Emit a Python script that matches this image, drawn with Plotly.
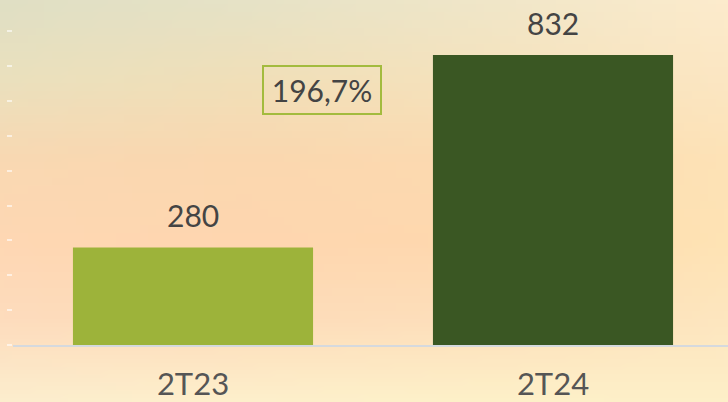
import base64
import struct
import zlib
import plotly.graph_objects as go

# data
categories = ["2T23", "2T24"]
values = [280, 832]
bar_colors = ["#9db33a", "#3a5723"]
growth_label = "196,7%"

# soft sunset-like background, control colours (rows top->bottom, cols left->right)
bg_rows = [
    ["#e0dfc4", "#e6e2c6", "#f0e6c8", "#fcebcc"],
    ["#ebe0bd", "#f1dfb8", "#f6e2bc", "#fbe6c2"],
    ["#f9d8b2", "#fbd7af", "#fcdab0", "#fde2b6"],
    ["#fed7b3", "#fed6af", "#fed8ae", "#fee3b4"],
    ["#fddcbd", "#fddcba", "#fddfbb", "#fde6bf"],
    ["#fcedcd", "#fdefcb", "#fdf0c8", "#fdefc8"],
]

W, H = 728, 402
ML, MB = 13, 57


def hex_rgb(h):
    h = h.lstrip("#")
    return [int(h[i:i + 2], 16) for i in (0, 2, 4)]


def gradient_png(rows, w=91, h=51):
    grid = [[hex_rgb(c) for c in r] for r in rows]
    nr, nc = len(grid), len(grid[0])
    raw = b""
    for j in range(h):
        fy = j / (h - 1) * (nr - 1)
        r0 = min(int(fy), nr - 2)
        ty = fy - r0
        line = b"\x00"
        for i in range(w):
            fx = i / (w - 1) * (nc - 1)
            c0 = min(int(fx), nc - 2)
            tx = fx - c0
            px = []
            for k in range(3):
                a = grid[r0][c0][k] * (1 - tx) + grid[r0][c0 + 1][k] * tx
                b = grid[r0 + 1][c0][k] * (1 - tx) + grid[r0 + 1][c0 + 1][k] * tx
                px.append(int(round(a * (1 - ty) + b * ty)))
            line += bytes(px)
        raw += line

    def chunk(tag, data):
        c = struct.pack(">I", len(data)) + tag + data
        return c + struct.pack(">I", zlib.crc32(tag + data) & 0xffffffff)

    png = b"\x89PNG\r\n\x1a\n"
    png += chunk(b"IHDR", struct.pack(">IIBBBBB", w, h, 8, 2, 0, 0, 0))
    png += chunk(b"IDAT", zlib.compress(raw, 9))
    png += chunk(b"IEND", b"")
    return "data:image/png;base64," + base64.b64encode(png).decode()


font = "Lato, 'Open Sans', sans-serif"

fig = go.Figure(go.Bar(
    x=categories, y=values,
    marker=dict(color=bar_colors, line=dict(width=0)),
    width=0.667,
    hoverinfo="skip",
))

# value labels above bars
for c, v in zip(categories, values):
    fig.add_annotation(x=c, y=v, text=str(v), showarrow=False,
                       yanchor="bottom", yshift=12,
                       font=dict(family=font, size=30, color="#444444"))

# growth box
fig.add_annotation(xref="paper", yref="paper", x=(322 - ML) / (W - ML), y=1 - 90 / (H - MB),
                   text=growth_label, showarrow=False,
                   xanchor="center", yanchor="middle",
                   width=114, height=44, borderpad=1,
                   bordercolor="#a3bb3e", borderwidth=2,
                   font=dict(family=font, size=30, color="#444444"))

fig.add_layout_image(dict(
    source=gradient_png(bg_rows),
    xref="paper", yref="paper",
    x=-ML / (W - ML), y=1,
    sizex=W / (W - ML), sizey=H / (H - MB),
    xanchor="left", yanchor="top",
    sizing="stretch", layer="below",
))

fig.update_layout(
    width=W, height=H,
    margin=dict(l=ML, r=0, t=0, b=MB),
    paper_bgcolor="#fbe3c0",
    plot_bgcolor="rgba(0,0,0,0)",
    showlegend=False,
    xaxis=dict(
        range=[-0.5, 1.5 - 5 / 360],
        showgrid=False, zeroline=False,
        showline=True, linecolor="#d5d9de", linewidth=2,
        ticks="", ticklabelstandoff=11, automargin=False,
        tickfont=dict(family=font, size=31, color="#555555"),
    ),
    yaxis=dict(
        range=[0, 990], dtick=100, automargin=False,
        showgrid=False, zeroline=False, showline=False,
        showticklabels=False,
        ticks="outside", ticklen=5, tickwidth=2,
        tickcolor="rgba(255,255,255,0.6)",
    ),
)

# drop the browser's default page margin so the chart fills the window
fig.write_html("out.html", config={"displayModeBar": False},
               post_script="document.body.style.margin='0';")
